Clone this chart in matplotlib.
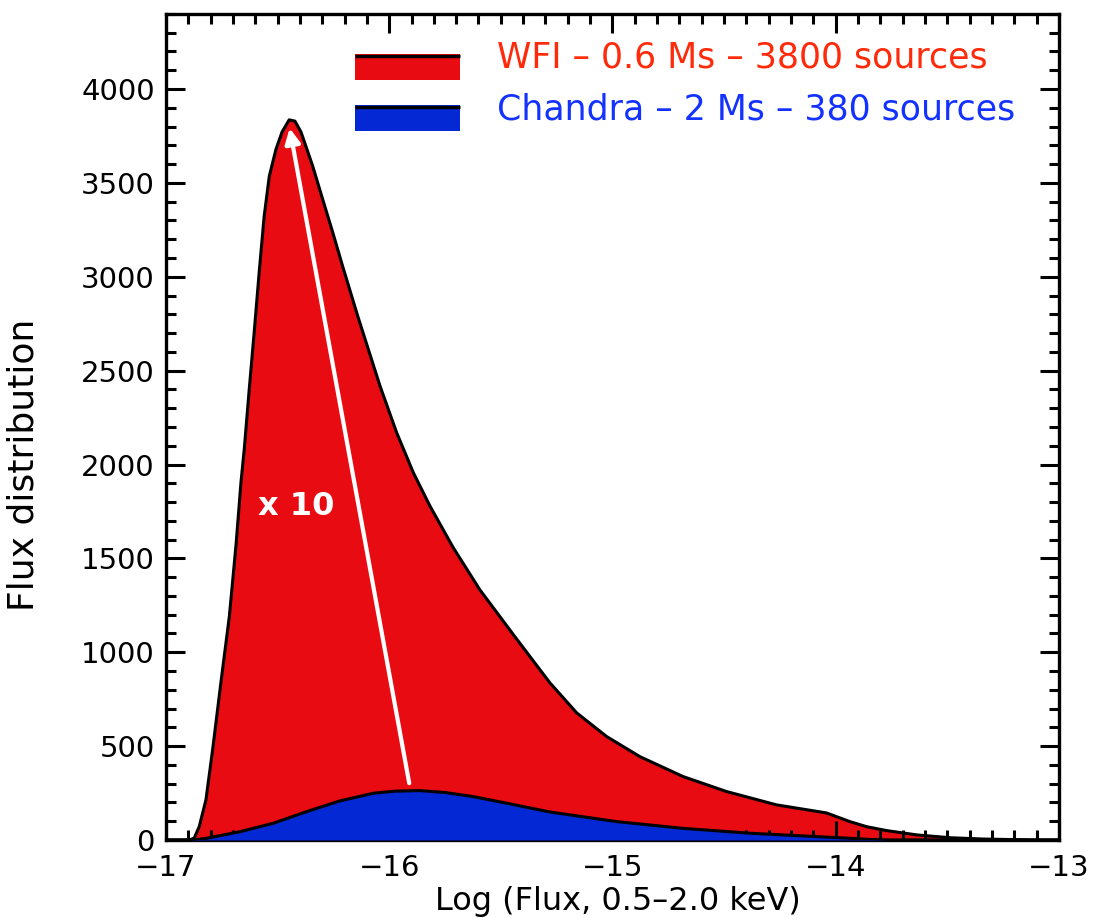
import numpy as np
import matplotlib
matplotlib.use('Agg')
import matplotlib.pyplot as plt
from matplotlib.patches import Rectangle
from matplotlib.ticker import MultipleLocator

# WFI (0.6 Ms) flux distribution
wfi_logflux = [-17.0, -16.893, -16.873, -16.851, -16.821, -16.791, -16.754, -16.716,
               -16.686, -16.664, -16.649, -16.627, -16.604, -16.582, -16.560, -16.537,
               -16.507, -16.480, -16.448, -16.422, -16.395, -16.343, -16.298, -16.253,
               -16.209, -16.141, -16.041, -15.967, -15.892, -15.817, -15.713, -15.594,
               -15.437, -15.280, -15.160, -15.026, -14.877, -14.684, -14.489, -14.265,
               -14.041, -13.937, -13.862, -13.772, -13.637, -13.488, -13.340, -13.116, -13.0]
wfi_counts = [0, 0, 11, 71, 213, 480, 837, 1191,
              1573, 1904, 2085, 2400, 2715, 3029, 3323, 3536,
              3680, 3771, 3836, 3829, 3771, 3591, 3413, 3237,
              3058, 2791, 2418, 2171, 1957, 1778, 1557, 1333,
              1083, 837, 677, 551, 444, 338, 258, 187,
              144, 98, 71, 50, 27, 12, 5, 0, 0]

# Chandra (2 Ms) flux distribution
cdf_logflux = [-17.0, -16.88, -16.818, -16.669, -16.519, -16.370, -16.221, -16.071,
               -15.974, -15.863, -15.750, -15.624, -15.474, -15.280, -14.982, -14.685,
               -14.385, -14.086, -13.937, -13.85, -13.76, -13.0]
cdf_counts = [0, 0, 9, 44, 89, 151, 208, 249,
              260, 263, 253, 231, 196, 149, 98, 62,
              36, 18, 9, 3, 0, 0]

wfi_label = 'WFI \u2013 0.6 Ms \u2013 3800 sources'
cdf_label = 'Chandra \u2013 2 Ms \u2013 380 sources'

red = '#e90b12'
blue = '#0328d4'

plt.rcParams['font.family'] = ['DejaVu Sans']

fig = plt.figure(figsize=(11.19, 9.18), dpi=100)
ax = fig.add_axes([0.1483, 0.085, 0.798, 0.8998])

ax.fill_between(wfi_logflux, wfi_counts, color=red, lw=0, zorder=1)
ax.plot(wfi_logflux, wfi_counts, color='k', lw=2.2, zorder=2)
ax.fill_between(cdf_logflux, cdf_counts, color=blue, lw=0, zorder=3)
ax.plot(cdf_logflux, cdf_counts, color='k', lw=2.2, zorder=4)

# the "x 10" arrow from the Chandra peak to the WFI peak
i_c = int(np.argmax(cdf_counts))
i_w = int(np.argmax(wfi_counts))
ax.annotate('', xy=(wfi_logflux[i_w], wfi_counts[i_w] - 30),
            xytext=(cdf_logflux[i_c] - 0.045, cdf_counts[i_c] + 25),
            arrowprops=dict(arrowstyle='-|>,head_length=0.9,head_width=0.45',
                            color='white', lw=3), zorder=5)
ax.text(-16.417, 1776, 'x 10', color='white', fontsize=23, fontweight='bold',
        ha='center', va='center', zorder=6)

# legend made by hand
for yb, c in [(0.920, red), (0.8584, blue)]:
    ax.add_patch(Rectangle((0.2117, yb), 0.1176, 0.031, transform=ax.transAxes,
                           facecolor=c, edgecolor='none', clip_on=False, zorder=7))
    ax.plot([0.2117, 0.3293], [yb + 0.029, yb + 0.029], color='k', lw=2.4,
            transform=ax.transAxes, solid_capstyle='butt', zorder=8)
ax.text(0.3707, 0.9467, wfi_label, color='#ff2a0a', fontsize=25,
        transform=ax.transAxes, va='center', ha='left')
ax.text(0.3707, 0.8838, cdf_label, color='#1432ff', fontsize=25,
        transform=ax.transAxes, va='center', ha='left')

ax.set_xlim(-17, -13)
ax.set_ylim(0, 4400)
ax.xaxis.set_major_locator(MultipleLocator(1))
ax.xaxis.set_minor_locator(MultipleLocator(0.1))
ax.yaxis.set_major_locator(MultipleLocator(500))
ax.yaxis.set_minor_locator(MultipleLocator(100))
ax.tick_params(which='both', direction='in', top=True, right=True, width=2.2)
ax.tick_params(which='major', length=14, labelsize=21)
ax.tick_params(axis='x', which='major', pad=10)
ax.tick_params(axis='y', which='major', pad=8)
ax.tick_params(which='minor', length=7)
for s in ax.spines.values():
    s.set_linewidth(2.4)

ax.set_xlabel('Log (Flux, 0.5\u20132.0 keV)', fontsize=23)
ax.set_ylabel('Flux distribution', fontsize=26)
ax.xaxis.set_label_coords(0.506, -0.056)
ax.yaxis.set_label_coords(-0.141, 0.454)

fig.savefig('out.png', dpi=100)
